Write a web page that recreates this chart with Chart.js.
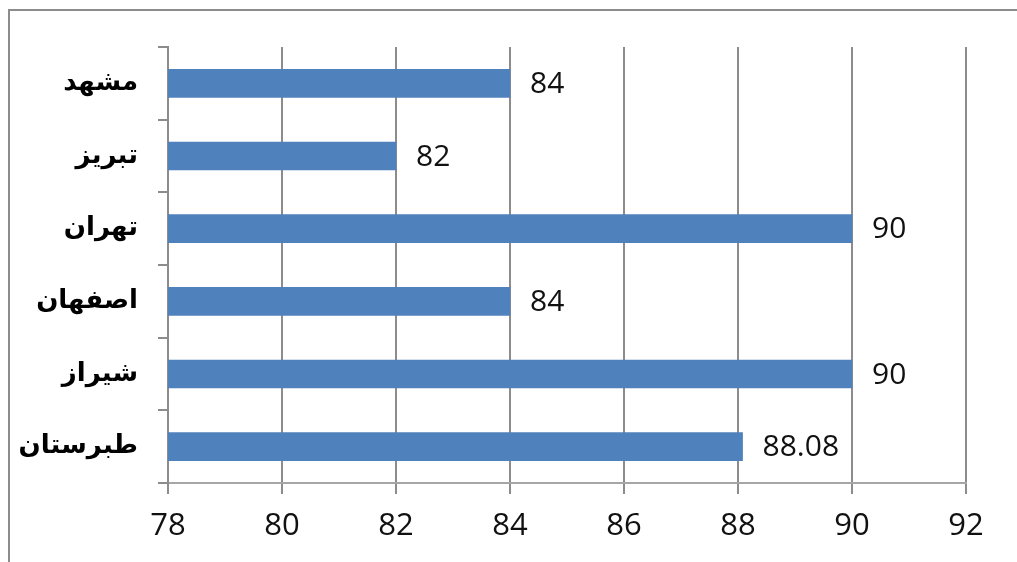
<!DOCTYPE html>
<html>
<head>
<meta charset="utf-8">
<script src="https://cdn.jsdelivr.net/npm/chart.js@4/dist/chart.umd.min.js"></script>
<style>
    html, body { margin: 0; padding: 0; background: #fff; }
    #wrap { position: relative; width: 1017px; height: 562px; }
    #frame {
        position: absolute; left: 8px; top: 9px; right: 0; bottom: 0;
        border-left: 2px solid #8c8c8c; border-top: 2px solid #8c8c8c;
        pointer-events: none;
    }
</style>
</head>
<body>
<div id="wrap">
    <canvas id="chart" width="1017" height="562"></canvas>
    <div id="frame"></div>
</div>
<script>
// Données
const cities = ['مشهد', 'تبریز', 'تهران', 'اصفهان', 'شیراز', 'طبرستان'];
const values = [84, 82, 90, 84, 90, 88.08];
const xTicks = [78, 80, 82, 84, 86, 88, 90, 92];

const barColor = '#4f81bd';
const gridColor = '#8c8c8c';

// étiquettes de valeur à droite des barres
const valueLabels = {
    id: 'valueLabels',
    afterDatasetsDraw(chart) {
        const ctx = chart.ctx;
        const meta = chart.getDatasetMeta(0);
        ctx.save();
        ctx.font = '30px "Open Sans", sans-serif';
        ctx.fillStyle = '#111';
        ctx.textAlign = 'left';
        ctx.textBaseline = 'middle';
        meta.data.forEach((bar, i) => {
            ctx.fillText(String(values[i]), bar.x + 20, bar.y + 1);
        });
        ctx.restore();
    }
};

const ctx = document.getElementById('chart').getContext('2d');
new Chart(ctx, {
    type: 'bar',
    data: {
        labels: cities,
        datasets: [{
            data: values,
            backgroundColor: barColor,
            borderWidth: 0,
            barThickness: 28
        }]
    },
    options: {
        indexAxis: 'y',
        responsive: false,
        animation: false,
        layout: { padding: { top: 47, right: 51, left: 0, bottom: 0 } },
        plugins: {
            legend: { display: false },
            tooltip: { enabled: false }
        },
        scales: {
            x: {
                min: 78,
                max: 92,
                afterBuildTicks(scale) {
                    scale.ticks = xTicks.map(v => ({ value: v }));
                },
                afterFit(scale) { scale.height = 79; },
                grid: {
                    color: gridColor,
                    lineWidth: 2,
                    tickLength: 11,
                    drawTicks: true
                },
                border: { color: '#a6a6a6', width: 2 },
                ticks: {
                    padding: 14,
                    color: '#111',
                    font: { family: '"Open Sans", sans-serif', size: 31 }
                }
            },
            y: {
                afterFit(scale) { scale.width = 168; },
                grid: {
                    offset: true,
                    drawOnChartArea: false,
                    color: gridColor,
                    lineWidth: 2,
                    tickLength: 10
                },
                border: { color: gridColor, width: 2 },
                ticks: {
                    padding: 20,
                    color: '#000',
                    font: { family: '"DejaVu Sans", sans-serif', size: 26, weight: 'bold' }
                }
            }
        }
    },
    plugins: [valueLabels]
});
</script>
</body>
</html>
